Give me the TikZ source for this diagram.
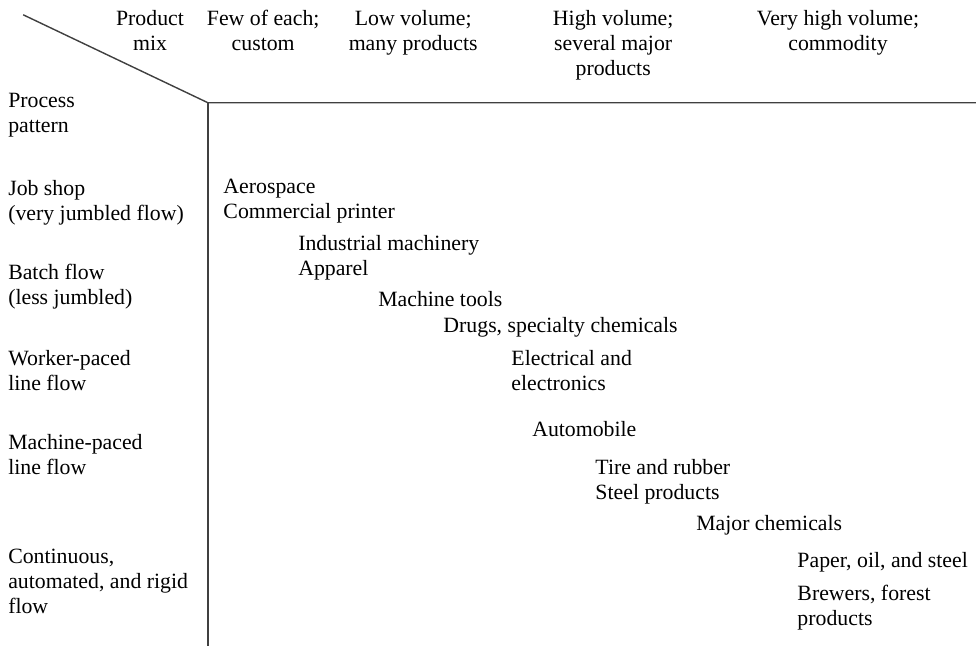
\documentclass[tikz,border=0pt]{standalone}
\usepackage{fontspec}
\setmainfont{Liberation Serif}
\usepackage[HTML]{xcolor}
\usepackage{tikz}
\usetikzlibrary{positioning, calc}
\definecolor{rule}{HTML}{404040}

\begin{document}
\begin{tikzpicture}[every node/.style={inner sep=0pt, font=\fontsize{15.5}{17.8}\selectfont},
  head/.style={anchor=base, align=center},
  side/.style={anchor=base west, align=left},
  prod/.style={anchor=base west, align=left}]
\useasboundingbox (0,0) rectangle (24.4,16.15);
\coordinate (T) at (0.58,15.78);
\coordinate (O) at (5.2,13.58);
\coordinate (R) at (24.4,13.58);
\coordinate (D) at (5.2,0);
\draw[rule, line width=1pt] (T)--(O)--(R);
\draw[rule, line width=1pt] (O)--(D);
% product mix header (base = last line)
\node[head] (H0) at (3.75,14.88) {Product\\mix};
\node[head] (H1) at (6.58,14.88) {Few of each;\\custom};
\node[head] (H2) at (10.33,14.88) {Low volume;\\many products};
\node[head] (H3) at (15.33,14.25) {High volume;\\several major\\products};
\node[head] (H4) at (20.95,14.88) {Very high volume;\\commodity};
% process pattern column
\node[side] (P0) at (0.2,12.83) {Process\\pattern};
\node[side] (P1) at (0.2,10.63) {Job shop\\(very jumbled flow)};
\node[side] (P2) at (0.2,8.53) {Batch flow\\(less jumbled)};
\node[side] (P3) at (0.2,6.38) {Worker-paced\\line flow};
\node[side] (P4) at (0.2,4.28) {Machine-paced\\line flow};
\node[side] (P5) at (0.2,0.8) {Continuous,\\automated, and rigid\\flow};
% industries along the diagonal
\node[prod] (I0) at (5.58,10.68) {Aerospace\\Commercial printer};
\node[prod] (I1) at (7.45,9.25) {Industrial machinery\\Apparel};
\node[prod] (I2) at (9.45,8.48) {Machine tools};
\node[prod] (I3) at (11.08,7.83) {Drugs, specialty chemicals};
\node[prod] (I4) at (12.78,6.38) {Electrical and\\electronics};
\node[prod] (I5) at (13.3,5.23) {Automobile};
\node[prod] (I6) at (14.88,3.65) {Tire and rubber\\Steel products};
\node[prod] (I7) at (17.4,2.88) {Major chemicals};
\node[prod] (I8) at (19.93,1.95) {Paper, oil, and steel};
\node[prod] (I9) at (19.93,0.5) {Brewers, forest\\products};
\end{tikzpicture}
\end{document}
